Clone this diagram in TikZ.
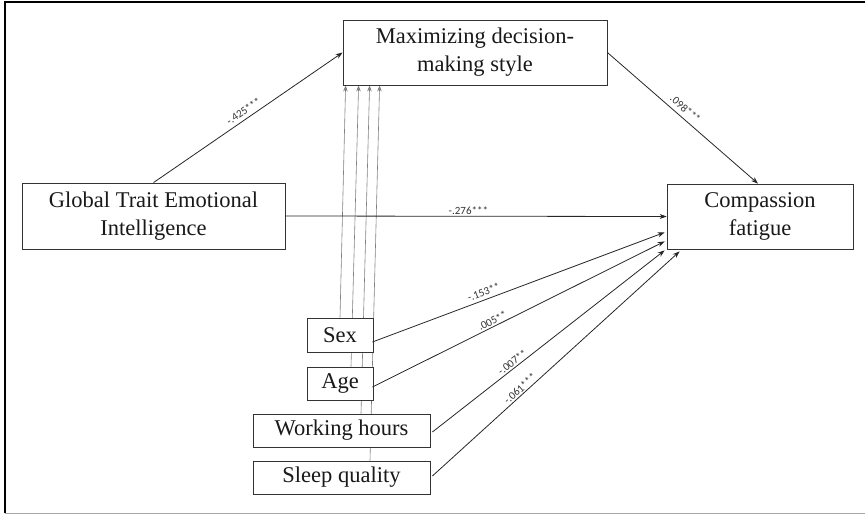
\documentclass[tikz,border=0pt]{standalone}
\usepackage{fontspec}
\setmainfont{Liberation Serif}
\newfontfamily\lblfont{Carlito}
\usetikzlibrary{arrows.meta,calc,backgrounds}
\begin{document}
\begin{tikzpicture}[x=1pt,y=-1pt,
  box/.style={draw=black!80, line width=0.8pt, fill=white, inner sep=0pt, align=center,
    font=\fontsize{22.5}{28}\selectfont, text=black!90},
  mainarrow/.style={draw=black!85, line width=0.8pt, -{Stealth[length=7pt,width=5pt]}},
  covarrow/.style={draw=black!50, line width=0.6pt, -{Stealth[length=6pt,width=4.5pt]}},
  coef/.style={sloped, above, font=\lblfont\fontsize{11}{13}\selectfont, text=black!80, inner sep=1.5pt},
  frameline/.style={draw=black, line width=1.8pt},
  bottomline/.style={draw=black!35, line width=1pt}]
\useasboundingbox (0,0) rectangle (865,515);
% frame
\draw[frameline] (5,513) -- (5,2) -- (865,2);
\draw[bottomline] (5,513) -- (865,513);
% nodes
\node[box, minimum width=264pt, minimum height=65pt] (max) at (475,52.5) {Maximizing decision-\\making style};
\node[box, minimum width=263pt, minimum height=66pt] (gtei) at (153.5,216) {Global Trait Emotional\\Intelligence};
\node[box, minimum width=186pt, minimum height=65pt] (cf) at (760,216.5) {Compassion\\fatigue};
\node[box, minimum width=66pt, minimum height=34pt] (sex) at (340,335) {Sex};
\node[box, minimum width=66pt, minimum height=33pt] (age) at (340,383.5) {Age};
\node[box, minimum width=177pt, minimum height=33pt] (wh) at (341.5,430.5) {Working hours};
\node[box, minimum width=177pt, minimum height=33pt] (sq) at (341.5,477.5) {Sleep quality};
% covariates to mediator (behind boxes)
\begin{scope}[on background layer]
\draw[covarrow] (sex.north) -- ($(max.south west)+(3,0)$);
\draw[covarrow] ($(age.north)+(11,0)$) -- ($(max.south west)+(16,0)$);
\draw[covarrow] ($(wh.north)+(19.5,0)$) -- ($(max.south west)+(27,0)$);
\draw[covarrow] ($(sq.north)+(28.5,0)$) -- ($(max.south west)+(37,0)$);
\end{scope}
% main paths
\draw[mainarrow] (gtei.north) -- node[coef, pos=0.50, above=2pt] {-.425***} (max.west);
\draw[mainarrow] (max.east) -- node[coef, pos=0.48, above=3pt] {.098***} ($(cf.north)+(-2,0)$);
\draw[mainarrow] (gtei.east) -- node[coef, pos=0.48] {-.276***} (cf.west);
% covariates to outcome
\draw[mainarrow] ($(sex.east)+(-1,7)$) -- node[coef, pos=0.39, above=2pt] {-.153**} ($(cf.south west)+(-2,-17)$);
\draw[mainarrow] ($(age.east)+(-1,3.5)$) -- node[coef, pos=0.42] {.005**} ($(cf.south west)+(-2,-8)$);
\draw[mainarrow] ($(wh.east)+(2,1.5)$) -- node[coef, pos=0.36] {-.007**} ($(cf.south west)+(-2,1)$);
\draw[mainarrow] ($(sq.east)+(2,-1.5)$) -- node[coef, pos=0.37] {-.061***} ($(cf.south west)+(13,2)$);
\end{tikzpicture}
\end{document}
